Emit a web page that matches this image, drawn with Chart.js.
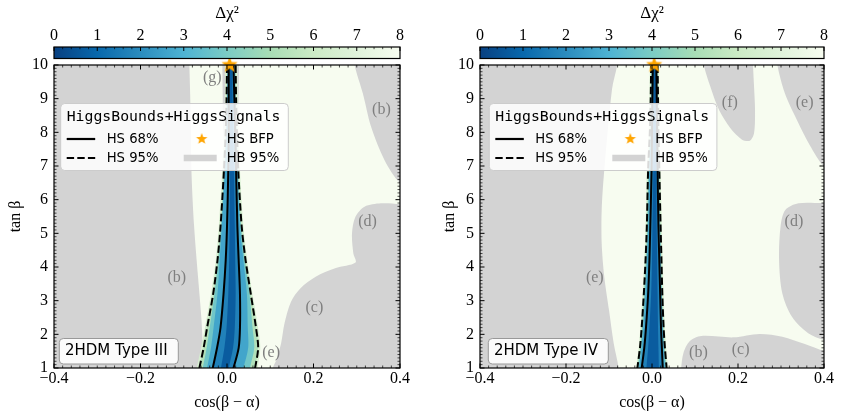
<!DOCTYPE html>
<html><head><meta charset="utf-8">
<script src="https://cdn.jsdelivr.net/npm/chart.js@4.4.1/dist/chart.umd.min.js"></script>
<style>
html,body{margin:0;padding:0;background:#fff;}
#wrap{position:relative;width:848px;height:414px;overflow:hidden;}
.panel{position:absolute;top:0;width:424px;height:414px;}
</style></head><body>
<div id="wrap">
<div class="panel" style="left:0"><canvas id="c1" width="424" height="414"></canvas></div>
<div class="panel" style="left:424px"><canvas id="c2" width="424" height="414"></canvas></div>
</div>
<script>
// ---------------- data ----------------
const xTicks = [-0.4, -0.2, 0.0, 0.2, 0.4];
const cbTicks = [0, 1, 2, 3, 4, 5, 6, 7, 8];
const gnbuColors = ['#084081','#0868ac','#2b8cbe','#4eb3d3','#7bccc4','#a8ddb5','#ccebc5','#e0f3db','#f7fcf0'];
const tanBeta = [10.3, 10, 9, 8, 6.88, 5.2, 4.2, 3.2, 2.2, 1.6, 1.0, 0.7];

// Type III : HiggsSignals contours (cos(beta-alpha) at each tanBeta)
const t3_hs95_lo = [0.000, 0.000, -0.001, -0.003, -0.007, -0.015, -0.022, -0.032, -0.046, -0.054, -0.064, -0.070];
const t3_hs95_hi = [0.020, 0.020, 0.021, 0.023, 0.026, 0.034, 0.043, 0.055, 0.067, 0.072, 0.065, 0.061];
const t3_hs68_lo = [0.004, 0.004, 0.004, 0.004, 0.003, 0.000, -0.003, -0.008, -0.015, -0.023, -0.033, -0.039];
const t3_hs68_hi = [0.015, 0.015, 0.017, 0.019, 0.021, 0.024, 0.027, 0.030, 0.030, 0.027, 0.015, 0.008];
const t3_chi1_lo = [0.007, 0.007, 0.007, 0.007, 0.007, 0.006, 0.005, 0.003, -0.001, -0.006, -0.014, -0.019];
const t3_chi1_hi = [0.012, 0.012, 0.013, 0.014, 0.016, 0.018, 0.019, 0.020, 0.018, 0.014, 0.004, -0.001];
const t3_chi3_lo = [0.0015, 0.0015, 0.0005, -0.0015, -0.005, -0.012, -0.017, -0.022, -0.031, -0.037, -0.046, -0.051];
const t3_chi3_hi = [0.018, 0.018, 0.019, 0.021, 0.0238, 0.030, 0.038, 0.046, 0.048, 0.049, 0.038, 0.032];
const t3_chi45_lo = [0.0005, 0.0005, -0.0005, -0.0025, -0.0062, -0.0138, -0.0202, -0.029, -0.040, -0.047, -0.056, -0.061];
const t3_chi45_hi = [0.0193, 0.0193, 0.0203, 0.0223, 0.0252, 0.0325, 0.041, 0.052, 0.059, 0.063, 0.053, 0.048];
const t3_chi7_lo = [-0.004, -0.004, -0.005, -0.007, -0.011, -0.019, -0.026, -0.037, -0.051, -0.060, -0.070, -0.076];
const t3_chi7_hi = [0.024, 0.024, 0.025, 0.027, 0.030, 0.038, 0.047, 0.059, 0.072, 0.077, 0.071, 0.067];
const t3_bfp = [0.006, 10];

// Type III : HiggsBounds excluded regions (x, tanBeta)
const t3_hb_left = [[-0.46,10.4],[-0.088,10.4],[-0.087,10],[-0.084,8.5],[-0.082,6.78],[-0.076,5.2],[-0.067,3.71],[-0.059,2.43],[-0.054,1.0],[-0.053,0.6],[-0.46,0.6]];
const t3_hb_g = [[-0.011,10.4],[-0.010,9.2],[-0.007,7.8],[0.008,7.1],[0.023,7.6],[0.027,9.2],[0.028,10.4]];
const t3_hb_upper = [[0.294,10.4],[0.295,10],[0.314,9.16],[0.333,8.17],[0.364,7.18],[0.4,6.49],[0.46,5.9],[0.46,10.4]];
const t3_hb_cd = [[0.46,5.87],[0.4,5.87],[0.356,5.89],[0.318,5.79],[0.297,5.49],[0.289,5.0],[0.292,4.41],[0.297,4.13],[0.25,3.96],[0.205,3.71],[0.170,3.37],[0.148,2.97],[0.133,2.33],[0.125,1.73],[0.114,1.24],[0.106,1.0],[0.102,0.6],[0.46,0.6]];
const t3_regionText = ['(g)', '(b)', '(d)', '(b)', '(c)', '(e)'];
const t3_regionX = [-0.034, 0.357, 0.325, -0.116, 0.202, 0.102];
const t3_regionY = [9.61, 8.66, 5.34, 3.67, 2.78, 1.45];

// Type IV : HiggsSignals contours
const t4_hs95_lo = [-0.002, -0.002, -0.003, -0.005, -0.009, -0.012, -0.015, -0.019, -0.024, -0.028, -0.034, -0.037];
const t4_hs95_hi = [0.013, 0.013, 0.014, 0.015, 0.017, 0.020, 0.022, 0.024, 0.027, 0.030, 0.034, 0.036];
const t4_hs68_lo = [0.002, 0.002, 0.001, 0.000, -0.001, -0.004, -0.006, -0.009, -0.014, -0.018, -0.024, -0.027];
const t4_hs68_hi = [0.010, 0.010, 0.011, 0.012, 0.013, 0.015, 0.017, 0.019, 0.021, 0.023, 0.025, 0.026];
const t4_chi1_lo = [0.004, 0.004, 0.004, 0.003, 0.003, 0.001, 0.000, -0.002, -0.006, -0.009, -0.013, -0.015];
const t4_chi1_hi = [0.008, 0.008, 0.009, 0.009, 0.010, 0.011, 0.012, 0.013, 0.014, 0.015, 0.016, 0.017];
const t4_chi3_lo = [0.000, 0.000, -0.001, -0.002, -0.006, -0.009, -0.012, -0.015, -0.020, -0.024, -0.030, -0.033];
const t4_chi3_hi = [0.011, 0.011, 0.012, 0.013, 0.015, 0.018, 0.020, 0.022, 0.025, 0.027, 0.030, 0.032];
const t4_chi45_lo = [-0.001, -0.001, -0.002, -0.004, -0.008, -0.011, -0.014, -0.018, -0.023, -0.027, -0.033, -0.036];
const t4_chi45_hi = [0.012, 0.012, 0.013, 0.014, 0.016, 0.019, 0.021, 0.023, 0.026, 0.029, 0.033, 0.035];
const t4_chi7_lo = [-0.005, -0.005, -0.006, -0.008, -0.012, -0.015, -0.018, -0.022, -0.027, -0.031, -0.037, -0.040];
const t4_chi7_hi = [0.016, 0.016, 0.017, 0.018, 0.020, 0.023, 0.025, 0.027, 0.030, 0.033, 0.037, 0.039];
const t4_bfp = [0.005, 10];

// Type IV : HiggsBounds excluded regions
const t4_hb_left = [[-0.46,10.4],[-0.080,10.4],[-0.081,10],[-0.093,9.28],[-0.111,6.88],[-0.117,5.69],[-0.117,4.70],[-0.111,3.71],[-0.100,2.72],[-0.089,1.73],[-0.0775,1.0],[-0.076,0.6],[-0.46,0.6]];
const t4_hb_f = [[0.119,10.4],[0.1205,10],[0.1356,9.36],[0.156,8.66],[0.1824,8.12],[0.2086,7.79],[0.2276,7.75],[0.2373,7.97],[0.2396,8.66],[0.2373,9.36],[0.235,10],[0.235,10.4]];
const t4_hb_e = [[0.291,10.4],[0.2916,10],[0.309,9.16],[0.337,8.37],[0.367,7.62],[0.4,6.98],[0.46,6.3],[0.46,10.4]];
const t4_hb_d = [[0.46,5.95],[0.4,5.9],[0.3406,5.89],[0.310,5.69],[0.299,5.2],[0.2955,4.21],[0.303,3.22],[0.3255,2.52],[0.3633,2.03],[0.4,1.83],[0.46,1.7]];
const t4_hb_bc = [[0.066,0.6],[0.0678,1.0],[0.073,1.44],[0.088,1.80],[0.1146,1.95],[0.19,1.91],[0.250,2.01],[0.303,1.93],[0.3556,1.71],[0.4,1.51],[0.46,1.4],[0.46,0.6]];
const t4_regionText = ['(f)', '(e)', '(d)', '(e)', '(b)', '(c)'];
const t4_regionX = [0.181, 0.355, 0.330, -0.133, 0.108, 0.206];
const t4_regionY = [8.87, 8.87, 5.34, 3.67, 1.45, 1.54];

// ---------------- styling ----------------
const SERIF = '"Liberation Serif", "DejaVu Serif", serif';
const SANS = '"DejaVu Sans", sans-serif';
const MONO = '"DejaVu Sans Mono", monospace';
const GRAY = '#d3d3d3';
const BANDS = {chi7:'#d6efd0', hs95:'#b1e0b9', chi45:'#70c6c8', chi3:'#42a5cb', hs68:'#2181b9', chi1:'#0a5c9f'};
const DASH = [7.4, 3.2];

function starCanvas(r) {
  const s = Math.ceil(r * 2 + 2);
  const c = document.createElement('canvas'); c.width = s; c.height = s;
  const g = c.getContext('2d');
  g.fillStyle = '#ffa500';
  g.beginPath();
  for (let i = 0; i < 10; i++) {
    const a = -Math.PI / 2 + i * Math.PI / 5;
    const rr = i % 2 === 0 ? r : r * 0.42;
    g.lineTo(s / 2 + rr * Math.cos(a), s / 2 + rr * Math.sin(a));
  }
  g.closePath(); g.fill();
  return c;
}
const bigStar = starCanvas(8.5);
const smallStar = starCanvas(6);

function polyDS(poly, color) {
  return {data: poly.map(p => ({x: p[0], y: p[1]})), fill: 'shape', backgroundColor: color,
    borderWidth: 0, pointRadius: 0, tension: 0.3};
}
function bandDS(lo, hi, color) {
  const pts = lo.map((x, i) => ({x, y: tanBeta[i]}));
  for (let i = hi.length - 1; i >= 0; i--) pts.push({x: hi[i], y: tanBeta[i]});
  return {data: pts, fill: 'shape', backgroundColor: color, borderWidth: 0, pointRadius: 0, tension: 0.3};
}
function lineDS(xs, dashed) {
  return {data: xs.map((x, i) => ({x, y: tanBeta[i]})), fill: false, borderColor: '#000',
    borderWidth: 2, borderDash: dashed ? DASH : [], pointRadius: 0, tension: 0.3};
}

function rrect(ctx, x, y, w, h, r) {
  ctx.beginPath();
  ctx.moveTo(x + r, y); ctx.lineTo(x + w - r, y); ctx.quadraticCurveTo(x + w, y, x + w, y + r);
  ctx.lineTo(x + w, y + h - r); ctx.quadraticCurveTo(x + w, y + h, x + w - r, y + h);
  ctx.lineTo(x + r, y + h); ctx.quadraticCurveTo(x, y + h, x, y + h - r);
  ctx.lineTo(x, y + r); ctx.quadraticCurveTo(x, y, x + r, y); ctx.closePath();
}

function makeDecor(P) {
  return {
    id: 'decor',
    beforeDatasetsDraw(chart) {
      const {ctx, chartArea: a} = chart;
      ctx.save(); ctx.fillStyle = '#f7fcf0';
      ctx.fillRect(a.left, a.top, a.right - a.left, a.bottom - a.top); ctx.restore();
    },
    afterDatasetsDraw(chart) {
      const {ctx, chartArea: a} = chart;
      const X = chart.scales.x, Y = chart.scales.y, C = chart.scales.cb;
      ctx.save();
      // region labels
      ctx.fillStyle = '#7f7f7f'; ctx.font = '16px ' + SERIF;
      ctx.textAlign = 'center'; ctx.textBaseline = 'middle';
      P.rText.forEach((t, i) => ctx.fillText(t, X.getPixelForValue(P.rX[i]), Y.getPixelForValue(P.rY[i])));
      // legend
      const L = P.legendX;
      rrect(ctx, L, 103.5, 227.6, 67, 4);
      ctx.fillStyle = 'rgba(255,255,255,0.85)'; ctx.fill();
      ctx.strokeStyle = '#cccccc'; ctx.lineWidth = 1; ctx.stroke();
      ctx.fillStyle = '#000'; ctx.textAlign = 'left';
      ctx.font = '14.8px ' + MONO; ctx.fillText('HiggsBounds+HiggsSignals', L + 6, 117.5);
      ctx.font = '13.2px ' + SANS;
      ctx.fillText('HS 68%', L + 46, 139.5); ctx.fillText('HS 95%', L + 46, 158.5);
      ctx.fillText('HS BFP', L + 166, 139.5); ctx.fillText('HB 95%', L + 166, 158.5);
      ctx.strokeStyle = '#000'; ctx.lineWidth = 2.2;
      ctx.beginPath(); ctx.moveTo(L + 6, 139); ctx.lineTo(L + 34.5, 139); ctx.stroke();
      ctx.setLineDash(DASH); ctx.beginPath(); ctx.moveTo(L + 6, 158); ctx.lineTo(L + 34.5, 158); ctx.stroke();
      ctx.setLineDash([]);
      ctx.strokeStyle = GRAY; ctx.lineWidth = 6.5;
      ctx.beginPath(); ctx.moveTo(L + 123, 158); ctx.lineTo(L + 156, 158); ctx.stroke();
      ctx.drawImage(smallStar, L + 141 - smallStar.width / 2, 139 - smallStar.height / 2);
      // type box
      rrect(ctx, P.typeX, 338.5, P.typeW, 25.5, 4);
      ctx.fillStyle = 'rgba(255,255,255,0.9)'; ctx.fill();
      ctx.strokeStyle = '#999999'; ctx.lineWidth = 1; ctx.stroke();
      ctx.fillStyle = '#000'; ctx.font = '15px ' + SANS; ctx.fillText(P.typeText, P.typeX + 5.7, 351.5);
      // frame + inward ticks
      ctx.strokeStyle = '#000';
      for (let k = -20; k <= 20; k++) {
        const px = X.getPixelForValue(k * 0.02), major = k % 10 === 0, len = major ? 4.5 : 2.5;
        ctx.lineWidth = major ? 1 : 0.7;
        ctx.beginPath(); ctx.moveTo(px, a.top); ctx.lineTo(px, a.top + len);
        ctx.moveTo(px, a.bottom); ctx.lineTo(px, a.bottom - len); ctx.stroke();
      }
      for (let k = 10; k <= 100; k++) {
        const py = Y.getPixelForValue(k / 10), major = k % 10 === 0, len = major ? 4.5 : 2.5;
        ctx.lineWidth = major ? 1 : 0.7;
        ctx.beginPath(); ctx.moveTo(a.left, py); ctx.lineTo(a.left + len, py);
        ctx.moveTo(a.right, py); ctx.lineTo(a.right - len, py); ctx.stroke();
      }
      ctx.lineWidth = 1.2; ctx.strokeRect(a.left, a.top, a.right - a.left, a.bottom - a.top);
      // colorbar
      const cx0 = C.getPixelForValue(0), cx1 = C.getPixelForValue(8), cy0 = 47, cy1 = 58.5;
      const grad = ctx.createLinearGradient(cx0, 0, cx1, 0);
      gnbuColors.forEach((c, i) => grad.addColorStop(i / 8, c));
      ctx.fillStyle = grad; ctx.fillRect(cx0, cy0, cx1 - cx0, cy1 - cy0);
      ctx.strokeStyle = '#000';
      for (let k = 0; k <= 40; k++) {
        const px = C.getPixelForValue(k * 0.2), major = k % 5 === 0, len = major ? 4 : 2.2;
        ctx.lineWidth = major ? 1 : 0.7;
        ctx.beginPath(); ctx.moveTo(px, cy0); ctx.lineTo(px, cy0 + len); ctx.stroke();
      }
      ctx.lineWidth = 1.2; ctx.strokeRect(cx0, cy0, cx1 - cx0, cy1 - cy0);
      ctx.restore();
    }
  };
}

function build(P) {
  const ds = [];
  P.hb.forEach(poly => ds.push(polyDS(poly, GRAY)));
  ds.push(bandDS(P.chi7[0], P.chi7[1], BANDS.chi7));
  ds.push(bandDS(P.hs95[0], P.hs95[1], BANDS.hs95));
  ds.push(bandDS(P.chi45[0], P.chi45[1], BANDS.chi45));
  ds.push(bandDS(P.chi3[0], P.chi3[1], BANDS.chi3));
  ds.push(bandDS(P.hs68[0], P.hs68[1], BANDS.hs68));
  ds.push(bandDS(P.chi1[0], P.chi1[1], BANDS.chi1));
  ds.push(lineDS(P.hs95[0], true)); ds.push(lineDS(P.hs95[1], true));
  ds.push(lineDS(P.hs68[0], false)); ds.push(lineDS(P.hs68[1], false));
  ds.push({data: [{x: P.bfp[0], y: P.bfp[1]}], pointStyle: bigStar, pointRadius: 9, showLine: false, clip: false});
  const N = ds.length;
  ds.forEach((d, i) => { d.order = N - i; });

  new Chart(document.getElementById(P.id), {
    type: 'line',
    data: {datasets: ds},
    options: {
      responsive: false, animation: false, devicePixelRatio: 1, events: [],
      layout: {padding: {left: 0, right: P.padR, top: 0, bottom: 0}},
      plugins: {legend: {display: false}, tooltip: {enabled: false}},
      scales: {
        x: {type: 'linear', position: 'bottom', min: -0.4, max: 0.4,
          afterBuildTicks: s => { s.ticks = xTicks.map(v => ({value: v})); },
          afterFit: s => { s.height = 46; },
          ticks: {autoSkip: false, maxRotation: 0, padding: 1, color: '#000', font: {family: SERIF, size: 16},
            callback: v => (v < 0 ? '\u2212' : '') + Math.abs(v).toFixed(1)},
          grid: {display: false, drawTicks: false}, border: {display: false},
          title: {display: true, text: 'cos(\u03B2 \u2212 \u03B1)', color: '#000', font: {family: SERIF, size: 16}, padding: {top: 0, bottom: 1.5}}},
        cb: {type: 'linear', axis: 'x', position: 'top', min: 0, max: 8,
          afterBuildTicks: s => { s.ticks = cbTicks.map(v => ({value: v})); },
          afterFit: s => { s.height = 65; },
          ticks: {autoSkip: false, maxRotation: 0, padding: 20, color: '#000', font: {family: SERIF, size: 16},
            callback: v => String(v)},
          grid: {display: false, drawTicks: false}, border: {display: false},
          title: {display: true, text: '\u0394\u03C7\u00B2', color: '#000', font: {family: SERIF, size: 17}, padding: {top: 3, bottom: 0}}},
        y: {type: 'linear', position: 'left', min: 1, max: 10,
          afterFit: s => { s.width = P.yW; },
          ticks: {stepSize: 1, padding: 6, color: '#000', font: {family: SERIF, size: 16}},
          grid: {display: false, drawTicks: false}, border: {display: false},
          title: {display: true, text: 'tan \u03B2', color: '#000', font: {family: SERIF, size: 16}, padding: {top: P.yTitlePad, bottom: 0}}}
      }
    },
    plugins: [makeDecor(P)]
  });
}

build({id: 'c1', yW: 54, padR: 18, yTitlePad: 6,
  hb: [t3_hb_left, t3_hb_g, t3_hb_upper, t3_hb_cd],
  chi7: [t3_chi7_lo, t3_chi7_hi], hs95: [t3_hs95_lo, t3_hs95_hi], chi45: [t3_chi45_lo, t3_chi45_hi],
  chi3: [t3_chi3_lo, t3_chi3_hi], hs68: [t3_hs68_lo, t3_hs68_hi], chi1: [t3_chi1_lo, t3_chi1_hi],
  bfp: t3_bfp, rText: t3_regionText, rX: t3_regionX, rY: t3_regionY,
  legendX: 60.7, typeX: 59.3, typeW: 119, typeText: '2HDM Type III'});

build({id: 'c2', yW: 56, padR: 15, yTitlePad: 16,
  hb: [t4_hb_left, t4_hb_f, t4_hb_e, t4_hb_d, t4_hb_bc],
  chi7: [t4_chi7_lo, t4_chi7_hi], hs95: [t4_hs95_lo, t4_hs95_hi], chi45: [t4_chi45_lo, t4_chi45_hi],
  chi3: [t4_chi3_lo, t4_chi3_hi], hs68: [t4_hs68_lo, t4_hs68_hi], chi1: [t4_chi1_lo, t4_chi1_hi],
  bfp: t4_bfp, rText: t4_regionText, rX: t4_regionX, rY: t4_regionY,
  legendX: 65.3, typeX: 64.3, typeW: 120, typeText: '2HDM Type IV'});
</script>
</body></html>
